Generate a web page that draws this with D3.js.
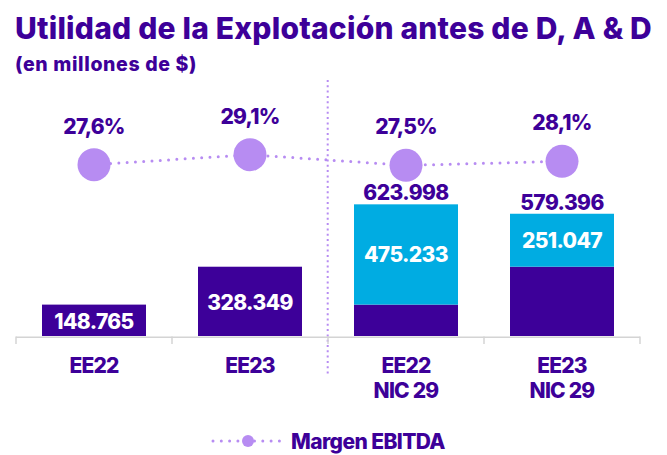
<html>
<head>
<meta charset="utf-8">
<script src="https://cdn.jsdelivr.net/npm/d3@7"></script>
<style>
  body { margin: 0; background: #fff; }
  text { font-family: Inter, "Noto Sans", sans-serif; font-weight: 800; }
</style>
</head>
<body>
<script>
// datos (mostrados como 148.765 = millones)
var categories = ["EE22", "EE23", "EE22\nNIC 29", "EE23\nNIC 29"];
var baseValues = [148765, 328349, 148765, 328349];   // parte morada
var nicValues  = [0, 0, 475233, 251047];              // efecto NIC 29 (celeste)
var margins    = [27.6, 29.1, 27.5, 28.1];            // Margen EBITDA %

var w = 667, h = 455;
var purple = "#3d0099", cyan = "#00ace2", lilac = "#b78cf2";

var es = d3.formatLocale({decimal: ",", thousands: ".", grouping: [3], currency: ["$", ""]});
var fmtNum = es.format(",d");
var fmtPct = es.format(".1f");

var rows = categories.map(function(c, i){
  return {cat: c, base: baseValues[i], nic: nicValues[i], total: baseValues[i] + nicValues[i], m: margins[i]};
});

var svg = d3.select("body").append("svg").attr("width", w).attr("height", h);

// escalas
var x = d3.scaleBand().domain(categories).range([16, 640]).paddingInner(1/3).paddingOuter(1/6);
var y = d3.scaleLinear().domain([0, 700000]).range([336, 188.3]);
var yM = d3.scaleLinear().domain([27, 30]).range([168.67, 148.67]);
function cx(d){ return x(d.cat) + x.bandwidth() / 2; }

// ajustar ancho de un texto con letter-spacing
function fit(sel, target) {
  var n = sel.text().length;
  var len = sel.node().getComputedTextLength();
  sel.attr("letter-spacing", (target - len) / n);
}

// titulo
var title = svg.append("text").attr("x", 15).attr("y", 39)
  .attr("font-size", 30).attr("font-weight", 700).attr("fill", purple)
  .text("Utilidad de la Explotación antes de D, A & D");
fit(title, 637);
var sub = svg.append("text").attr("x", 15).attr("y", 71)
  .attr("font-size", 19.5).attr("fill", purple)
  .text("(en millones de $)");
fit(sub, 182);

// separador vertical
svg.append("line")
  .attr("x1", 327.7).attr("x2", 327.7).attr("y1", 80).attr("y2", 376)
  .attr("stroke", lilac).attr("stroke-width", 2).attr("stroke-dasharray", "2 3.3");

// eje x
var step = x.step();
var inner = step - x.bandwidth();
var axisLeft = x(categories[0]) - inner / 2;
var axisRight = x(categories[categories.length - 1]) + x.bandwidth() + inner / 2;
svg.append("line").attr("x1", axisLeft).attr("x2", axisRight).attr("y1", 337.3).attr("y2", 337.3)
  .attr("stroke", "#d4d4d4").attr("stroke-width", 1.5);
svg.selectAll(".tick").data(d3.range(categories.length + 1)).enter().append("line")
  .attr("class", "tick")
  .attr("x1", function(i){ return axisLeft + i * step; })
  .attr("x2", function(i){ return axisLeft + i * step; })
  .attr("y1", 336.6).attr("y2", 344)
  .attr("stroke", "#d4d4d4").attr("stroke-width", 1.5);

var catG = svg.selectAll(".cat").data(categories).enter().append("text")
  .attr("class", "cat")
  .attr("text-anchor", "middle").attr("font-size", 21).attr("letter-spacing", -0.8)
  .attr("fill", purple);
catG.selectAll("tspan").data(function(d){ return d.split("\n").map(function(s){ return {c: d, s: s}; }); })
  .enter().append("tspan")
  .attr("x", function(d){ return x(d.c) + x.bandwidth() / 2; })
  .attr("y", function(d, i){ return 373 + i * 25; })
  .text(function(d){ return d.s; });

// barras base
svg.selectAll(".base").data(rows).enter().append("rect")
  .attr("class", "base")
  .attr("x", function(d){ return x(d.cat); })
  .attr("width", x.bandwidth())
  .attr("y", function(d){ return y(d.base); })
  .attr("height", function(d){ return y(0) - y(d.base); })
  .attr("fill", purple);

// barras NIC 29
var nicRows = rows.filter(function(d){ return d.nic > 0; });
svg.selectAll(".nic").data(nicRows).enter().append("rect")
  .attr("class", "nic")
  .attr("x", function(d){ return x(d.cat); })
  .attr("width", x.bandwidth())
  .attr("y", function(d){ return y(d.total); })
  .attr("height", function(d){ return y(d.base) - y(d.total); })
  .attr("fill", cyan);

// etiquetas
function valText(sel) {
  return sel.attr("text-anchor", "middle").attr("font-size", 21).attr("letter-spacing", -0.6);
}
valText(svg.selectAll(".bl").data(rows.filter(function(d){ return d.nic === 0; })).enter().append("text"))
  .attr("x", cx)
  .attr("y", function(d){ return (y(0) + y(d.base)) / 2 + 9; })
  .attr("fill", "#fff").text(function(d){ return fmtNum(d.base); });
valText(svg.selectAll(".nl").data(nicRows).enter().append("text"))
  .attr("x", cx)
  .attr("y", function(d){ return (y(d.base) + y(d.total)) / 2 + 8; })
  .attr("fill", "#fff").text(function(d){ return fmtNum(d.nic); });
valText(svg.selectAll(".tl").data(nicRows).enter().append("text"))
  .attr("x", cx)
  .attr("y", function(d){ return y(d.total) - 4; })
  .attr("fill", purple).text(function(d){ return fmtNum(d.total); });

// linea margen EBITDA
var line = d3.line().x(cx).y(function(d){ return yM(d.m); });
svg.append("path").datum(rows).attr("d", line)
  .attr("fill", "none").attr("stroke", lilac).attr("stroke-width", 3)
  .attr("stroke-linecap", "round").attr("stroke-dasharray", "0 8.3");
svg.selectAll(".dot").data(rows).enter().append("circle")
  .attr("cx", cx)
  .attr("cy", function(d){ return yM(d.m); })
  .attr("r", 16.5).attr("fill", lilac);
svg.selectAll(".pct").data(rows).enter().append("text")
  .attr("x", cx)
  .attr("y", function(d){ return yM(d.m) - 31; })
  .attr("text-anchor", "middle").attr("font-size", 21).attr("letter-spacing", -0.8)
  .attr("fill", purple).text(function(d){ return fmtPct(d.m) + "%"; });

// leyenda
svg.append("line").attr("x1", 213).attr("x2", 282).attr("y1", 441).attr("y2", 441)
  .attr("stroke", lilac).attr("stroke-width", 3)
  .attr("stroke-linecap", "round").attr("stroke-dasharray", "0 8.3");
svg.append("circle").attr("cx", 248).attr("cy", 441).attr("r", 6).attr("fill", lilac);
svg.append("text").attr("x", 291).attr("y", 449).attr("font-size", 21).attr("font-weight", 700)
  .attr("letter-spacing", -0.6)
  .attr("fill", purple).text("Margen EBITDA");
</script>
</body>
</html>
